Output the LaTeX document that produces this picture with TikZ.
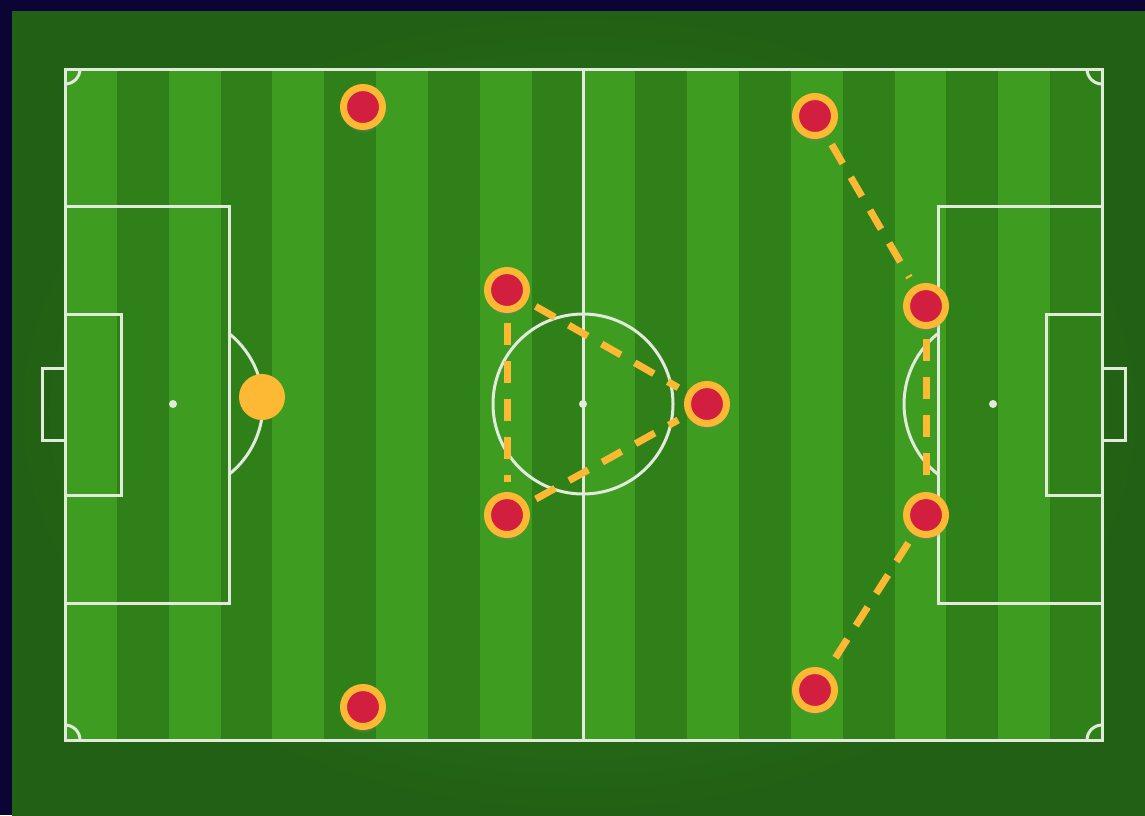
\documentclass[tikz,border=0pt]{standalone}
\usepackage{tikz}
\usetikzlibrary{arrows.meta,shadows}
\definecolor{fldnavy}{HTML}{0B0536}
\definecolor{fldout}{HTML}{2C7C1B}
\definecolor{fldlight}{HTML}{3E9C21}
\definecolor{flddark}{HTML}{2F8019}
\definecolor{fldline}{HTML}{E2EADB}
\definecolor{fldorange}{HTML}{FDB934}
\definecolor{fldred}{HTML}{D21F40}
\tikzset{
  mark line/.style={draw=fldline, line width=3pt},
  player/.style={circle, fill=fldred, draw=fldorange, line width=7pt, minimum size=39pt, inner sep=0pt,
    circular drop shadow={shadow xshift=0pt, shadow yshift=-4pt, opacity=0.4, shadow scale=1.1}},
  keeper/.style={circle, fill=fldorange, minimum size=46pt, inner sep=0pt},
  link/.style={draw=fldorange, line width=7pt, dash pattern=on 22pt off 16pt, shorten <=10pt, shorten >=10pt},
}

\begin{document}
\begin{tikzpicture}[x=1pt, y=-1pt]
  \useasboundingbox (0,0) rectangle (1145,815);
  % frame and grass
  \fill[fldnavy] (0,0) rectangle (1145,815);
  \shade[inner color=fldout, outer color=fldout!78!black] (12,11) rectangle (1145,815);
  \fill[fldlight] (65,69) rectangle (1102,740);
  \foreach \i in {1,3,...,19}
    \fill[flddark] ({65+51.85*\i},69) rectangle +(51.85,671);
  % pitch markings
  \draw[mark line] (65,69) rectangle (1102,740);
  \draw[mark line] (583,69) -- (583,740);
  \draw[mark line] (583,404) circle (90);
  \fill[fldline] (583,404) circle (4);
  % left end
  \draw[mark line] (65,206) rectangle (229,603);
  \draw[mark line] (65,314) rectangle (121,495);
  \draw[mark line] (42,368) rectangle (65,440);
  \fill[fldline] (173,404) circle (4);
  \draw[mark line] (229,333.5) arc[start angle=-51.5, end angle=51.5, radius=90];
  % right end
  \draw[mark line] (938,206) rectangle (1102,603);
  \draw[mark line] (1046,314) rectangle (1102,495);
  \draw[mark line] (1102,368) rectangle (1125,440);
  \fill[fldline] (993,404) circle (4);
  \draw[mark line] (938,333.5) arc[start angle=231.5, end angle=128.5, radius=90];
  % corners
  \draw[mark line] (80,69) arc[start angle=0, end angle=90, radius=15];
  \draw[mark line] (1087,69) arc[start angle=180, end angle=90, radius=15];
  \draw[mark line] (80,740) arc[start angle=0, end angle=-90, radius=15];
  \draw[mark line] (1087,740) arc[start angle=180, end angle=270, radius=15];

  % players
  \node[keeper] (gk) at (262,397) {};
  \node[player] (lt) at (363,107) {};
  \node[player] (lb) at (363,707) {};
  \node[player] (mt) at (507,290) {};
  \node[player] (mb) at (507,515) {};
  \node[player] (mc) at (707,404) {};
  \node[player] (ft) at (815,116) {};
  \node[player] (rt) at (926,306) {};
  \node[player] (rb) at (926,515) {};
  \node[player] (fb) at (815,690) {};
  \foreach \a/\b in {mt/mc,mt/mb,mb/mc,ft/rt,rt/rb,rb/fb}
    \draw[link] (\a) -- (\b);
\end{tikzpicture}
\end{document}
